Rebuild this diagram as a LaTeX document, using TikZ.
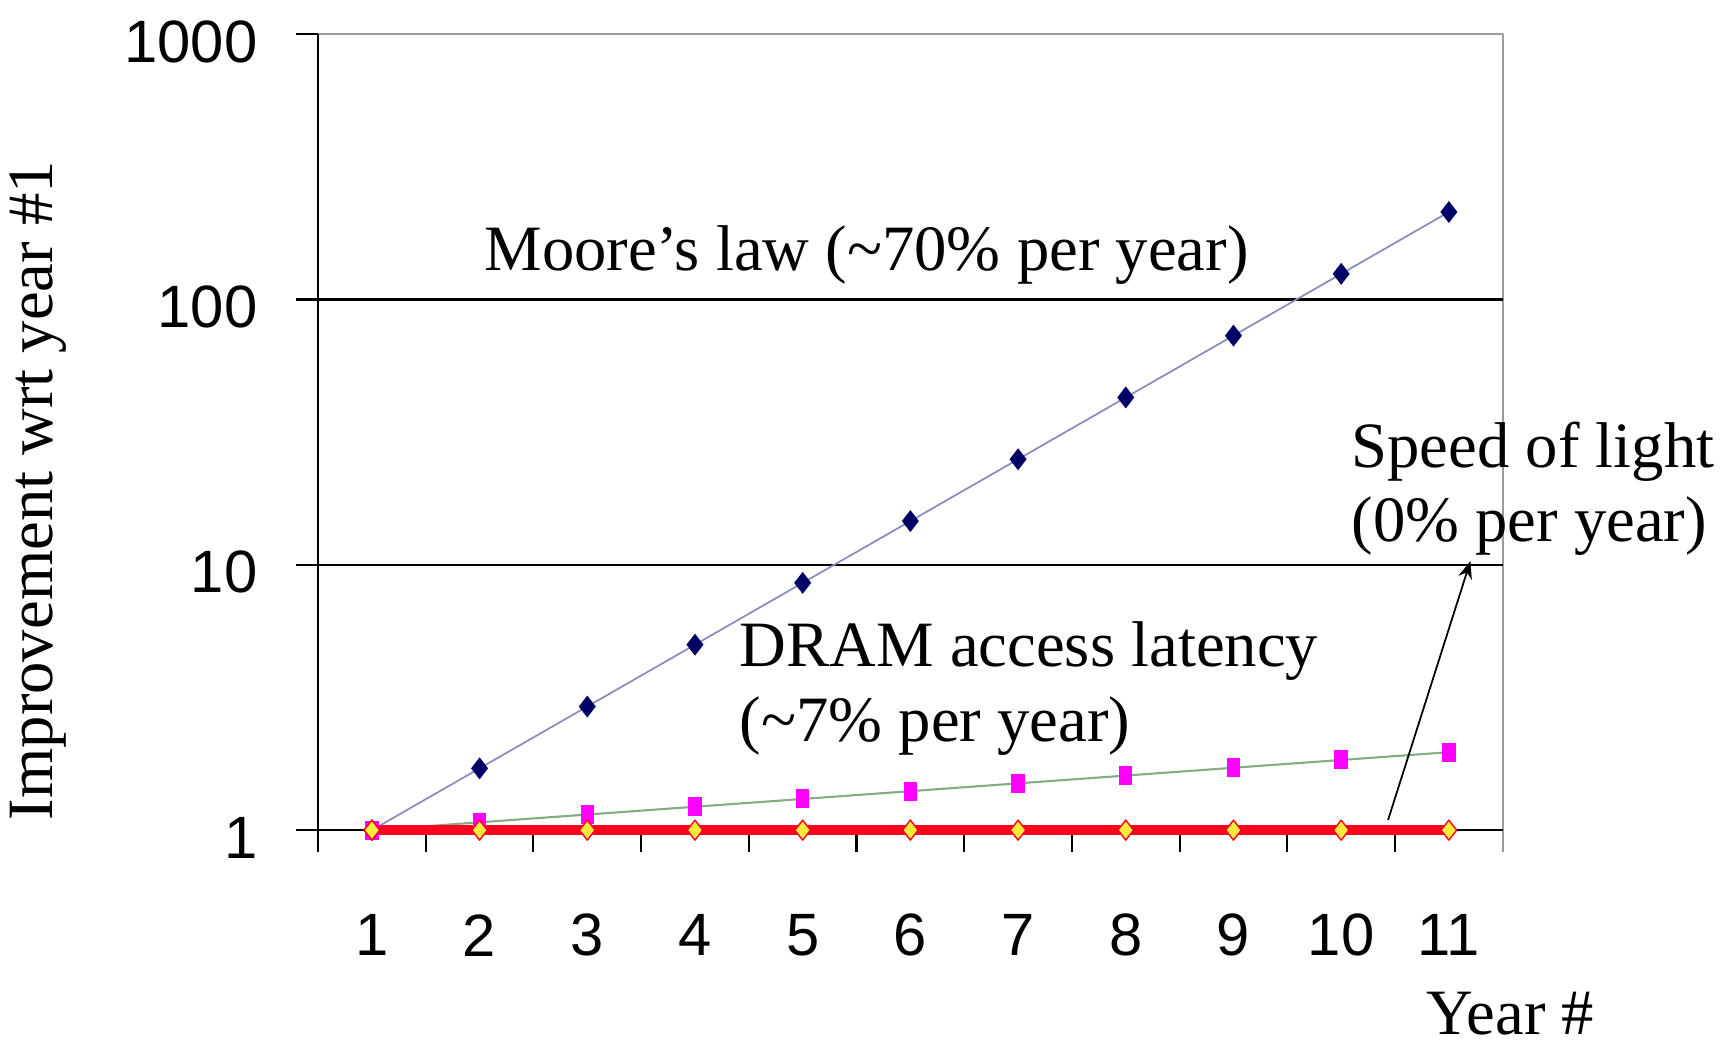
\documentclass[tikz,border=0pt]{standalone}
\usepackage{fontspec}
\setmainfont{Liberation Serif}
\newfontfamily\axisfont{Liberation Sans}
\usetikzlibrary{arrows.meta}
\definecolor{moorecol}{RGB}{0,0,102}
\definecolor{mooreline}{RGB}{140,140,190}
\definecolor{dramcol}{RGB}{255,0,255}
\definecolor{dramline}{RGB}{130,175,130}
\definecolor{lightred}{RGB}{255,0,30}
\definecolor{lightmark}{RGB}{255,235,60}
\definecolor{framecol}{RGB}{160,155,150}

\begin{document}
\begin{tikzpicture}[x=1.077cm, y=2.653cm, >={Stealth[length=5pt,width=4pt]}, line join=round,
  declare function={moore(\n)=log10(1.71^(\n-1)); dram(\n)=log10(1.07^(\n-1));},
  lbl/.style={font=\fontsize{18.4}{21.3}\selectfont, inner sep=0pt},
  num/.style={font=\axisfont\fontsize{17}{20}\selectfont, inner sep=0pt},
  axisline/.style={line width=0.6pt}]

\useasboundingbox (-2.953,-0.814) rectangle (13.064,3.129);

\coordinate (O) at (0,0);
\coordinate (E) at (11,0);
\coordinate (T) at (0,3);
\coordinate (TE) at (11,3);

% plot area and grid
\draw[framecol, line width=0.5pt] (T) -- (TE) -- (11,-0.083);
\foreach \d in {1,2} { \draw[axisline] (0,\d) -- (11,\d); }
\draw[axisline] (0,-0.083) -- (T);
\draw[axisline] (O) -- (E);
\foreach \d in {0,...,3} { \draw[axisline] (-0.204,\d) -- (0,\d); }
\foreach \k in {1,...,10} { \draw[axisline] (\k,0) -- (\k,-0.083); }

% tick labels
\foreach \d/\t in {0/1,1/10,2/100,3/1000} { \node[num, anchor=east] (y\d) at (-0.557,\d-0.028) {\t}; }
\foreach \n in {1,...,11} { \node[num] (x\n) at (\n-0.5,-0.396) {\n}; }

% series
\draw[dramline, line width=0.6pt] plot[domain=1:11, samples=11] ({\x-0.5},{dram(\x)});
\draw[mooreline, line width=0.5pt] plot[domain=1:11, samples=11] ({\x-0.5},{moore(\x)});
\draw[lightred, line width=3pt] (0.5,0) -- (10.5,0);

\foreach \n in {1,...,11} {
  \fill[dramcol] ({\n-0.5},{dram(\n)}) +(-0.067cm,-0.095cm) rectangle +(0.067cm,0.095cm);
  \fill[moorecol] ({\n-0.5},{moore(\n)}) +(0cm,0.11cm) -- +(0.085cm,0cm) -- +(0cm,-0.11cm) -- +(-0.085cm,0cm) -- cycle;
}
\foreach \n in {1,...,11} {
  \filldraw[fill=lightmark, draw=lightred, line width=0.4pt] (\n-0.5,0) +(0cm,0.1cm) -- +(0.078cm,0cm) -- +(0cm,-0.1cm) -- +(-0.078cm,0cm) -- cycle;
}

% labels
\node[lbl, anchor=west] (moore) at (1.54,2.167) {Moore’s law (\textasciitilde70\% per year)};
\node[lbl, anchor=west, align=left] (dram) at (3.91,0.533) {DRAM access latency\\(\textasciitilde7\% per year)};
\node[lbl, anchor=west, align=left] (light) at (9.59,1.287) {Speed of light\\(0\% per year)};
\node[lbl, rotate=90] (ylab) at (-2.60,1.28) {Improvement wrt year \#1};
\node[lbl] (xlab) at (11.07,-0.69) {Year \#};

\coordinate (tail) at (9.935,0.038);
\coordinate (tip) at (10.70,1.014);
\draw[->, line width=0.5pt] (tail) -- (tip);
\end{tikzpicture}
\end{document}
